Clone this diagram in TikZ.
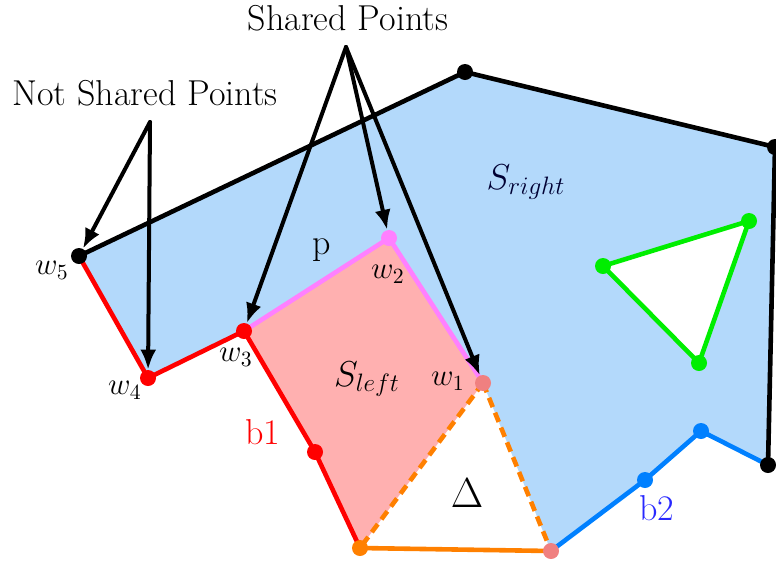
\RequirePackage{fix-cm}
\documentclass[tikz,border=0pt]{standalone}
\usetikzlibrary{arrows.meta}
\definecolor{blueF}{RGB}{179,217,251}
\definecolor{pinkF}{RGB}{255,176,176}
\definecolor{violetE}{RGB}{255,128,255}
\definecolor{orangeE}{RGB}{255,128,0}
\definecolor{blueE}{RGB}{0,128,255}
\definecolor{greenE}{RGB}{0,238,0}
\definecolor{coralD}{RGB}{240,128,128}
\definecolor{blueT}{RGB}{40,40,255}
\begin{document}
\begin{tikzpicture}[x=0.5pt,y=-0.5pt,
  edge/.style={line width=2.3pt, line join=round, line cap=round},
  dot/.style={circle, inner sep=0pt, minimum size=8pt},
  arr/.style={line width=2pt, line cap=round, -{Latex[length=10pt,width=8pt]}},
  lab/.style={font=\fontsize{18}{21}\selectfont, inner sep=0pt},
  wlab/.style={font=\fontsize{15.5}{18}\selectfont, inner sep=0pt},
  biglab/.style={font=\fontsize{18}{21}\selectfont, inner sep=0pt},
]
\useasboundingbox (0,0) rectangle (776,563);
\clip (0,0) rectangle (776,563);
% positions
\coordinate (T) at (465,72);
\coordinate (R1) at (775,147);
\coordinate (R2) at (768,465);
\coordinate (b2a) at (701,431);
\coordinate (b2b) at (645,480);
\coordinate (B) at (551,551);
\coordinate (O) at (360,548);
\coordinate (w1) at (483,383);
\coordinate (w2) at (389,238);
\coordinate (w3) at (244,331);
\coordinate (w4) at (148,378);
\coordinate (w5) at (79,256);
\coordinate (b1) at (315,452);
\coordinate (g1) at (603,266);
\coordinate (g2) at (749,221);
\coordinate (g3) at (699,363);
\coordinate (sp) at (346,47);
\coordinate (nsp) at (150,122);
% fills
\fill[blueF] (w5) -- (T) -- (R1) -- (R2) -- (b2a) -- (b2b) -- (B) -- (w1) -- (w2) -- (w3) -- (w4) -- cycle;
\fill[pinkF] (w3) -- (w2) -- (w1) -- (O) -- (b1) -- cycle;
% edges
\draw[edge, black] (w5) -- (T) -- (R1) -- (R2);
\draw[edge, blueE] (R2) -- (b2a) -- (b2b) -- (B);
\draw[edge, orangeE] (O) -- (B);
\draw[edge, orangeE, dashed, dash pattern=on 5pt off 3pt, line cap=butt] (w1) -- (O);
\draw[edge, orangeE, dashed, dash pattern=on 5pt off 3pt, line cap=butt] (w1) -- (B);
\draw[edge, violetE] (w1) -- (w2) -- (w3);
\draw[edge, red] (w3) -- (b1) -- (O);
\draw[edge, red] (w3) -- (w4) -- (w5);
\draw[edge, greenE, fill=white] (g1) -- (g2) -- (g3) -- cycle;
% dots
\node[dot, fill=black] (dT) at (T) {};
\node[dot, fill=black] (dR1) at (R1) {};
\node[dot, fill=black] (dR2) at (R2) {};
\node[dot, fill=blueE] (db2a) at (b2a) {};
\node[dot, fill=blueE] (db2b) at (b2b) {};
\node[dot, fill=coralD] (dB) at (B) {};
\node[dot, fill=orangeE] (dO) at (O) {};
\node[dot, fill=coralD] (dw1) at (w1) {};
\node[dot, fill=violetE] (dw2) at (w2) {};
\node[dot, fill=red] (dw3) at (w3) {};
\node[dot, fill=red] (dw4) at (w4) {};
\node[dot, fill=black] (dw5) at (w5) {};
\node[dot, fill=red] (db1) at (b1) {};
\node[dot, fill=greenE] (dg1) at (g1) {};
\node[dot, fill=greenE] (dg2) at (g2) {};
\node[dot, fill=greenE] (dg3) at (g3) {};
% arrows
\draw[arr] (sp) -- (dw3);
\draw[arr] (sp) -- (dw2);
\draw[arr] (sp) -- (dw1);
\draw[arr] (nsp) -- (dw5);
\draw[arr] (nsp) -- (dw4);
% labels
\node[lab] (tsp) at (348,18) {Shared Points};
\node[lab] (tnsp) at (145,93) {Not Shared Points};
\node[wlab] (l5) at (52,270) {$w_5$};
\node[wlab] (l4) at (125,390) {$w_4$};
\node[wlab] (l3) at (236,357) {$w_3$};
\node[wlab] (l2) at (388,274) {$w_2$};
\node[wlab] (l1) at (448,381) {$w_1$};
\node[lab] (lp) at (322,250) {p};
\node[biglab] (lsl) at (367,379) {$S_{left}$};
\node[biglab, text=black!80!blue] (lsr) at (526,182) {$S_{right}$};
\node[lab, text=red] (lb1) at (263,432) {b1};
\node[lab, text=blueT] (lb2) at (657,508) {b2};
\node[biglab, font=\fontsize{21}{24}\selectfont] (ld) at (467,493) {$\Delta$};
\end{tikzpicture}
\end{document}
